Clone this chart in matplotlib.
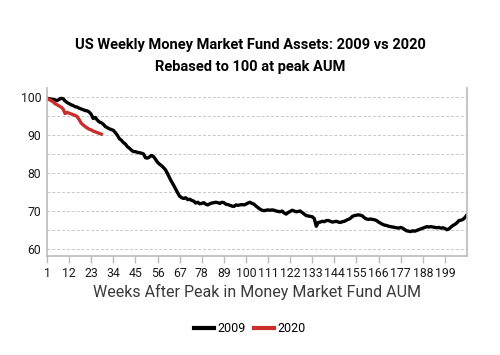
import matplotlib.pyplot as plt
from matplotlib.lines import Line2D

# Rebased weekly money market fund assets (peak = 100)
mmf_2009 = [
    99.6, 99.5, 99.4, 99.3, 99.2, 99.0, 99.3, 99.6, 99.5, 98.9,
    98.5, 98.2, 97.9, 97.7, 97.4, 97.3, 97.0, 96.8, 96.6, 96.4,
    96.3, 96.0, 95.4, 94.3, 94.6, 93.9, 93.4, 93.2, 92.8, 92.2,
    91.9, 91.6, 91.4, 91.2, 90.6, 89.9, 89.0, 88.6, 88.0, 87.6,
    86.9, 86.5, 86.0, 85.6, 85.6, 85.4, 85.3, 85.2, 85.0, 84.0,
    83.9, 84.2, 84.6, 84.3, 83.6, 82.8, 82.3, 81.9, 81.4, 80.8,
    79.8, 78.7, 77.7, 76.8, 75.8, 74.8, 73.9, 73.5, 73.3, 73.5,
    73.0, 73.1, 72.8, 72.6, 72.1, 72.3, 71.9, 72.0, 72.2, 71.8,
    71.6, 71.9, 72.1, 72.2, 72.3, 72.2, 72.0, 72.3, 72.2, 71.8,
    71.7, 71.5, 71.3, 71.2, 71.6, 71.5, 71.6, 71.7, 71.6, 71.8,
    72.1, 72.3, 72.0, 71.8, 71.3, 70.9, 70.5, 70.2, 70.1, 70.2,
    70.3, 70.2, 70.3, 70.2, 70.0, 69.9, 69.8, 70.0, 69.5, 69.2,
    69.6, 69.9, 70.2, 70.0, 69.8, 69.9, 70.0, 69.6, 69.2, 68.8,
    68.7, 68.6, 68.5, 68.0, 66.0, 67.0, 67.1, 67.3, 67.2, 67.5,
    67.5, 67.3, 67.1, 67.2, 67.3, 67.1, 67.0, 67.2, 67.3, 67.6,
    67.8, 68.1, 68.6, 68.8, 68.9, 69.0, 68.9, 68.7, 68.2, 67.9,
    67.8, 67.9, 67.8, 67.7, 67.5, 67.1, 66.8, 66.5, 66.3, 66.2,
    66.0, 65.9, 65.8, 65.7, 65.6, 65.5, 65.7, 65.5, 65.1, 64.8,
    64.7, 64.6, 64.8, 64.7, 64.9, 65.1, 65.3, 65.5, 65.7, 65.9,
    65.8, 65.9, 65.8, 65.7, 65.6, 65.7, 65.5, 65.6, 65.4, 65.1,
    65.3, 65.8, 66.2, 66.5, 66.9, 67.5, 67.6, 67.8, 68.3, 69.0,
]
mmf_2020 = [
    99.6, 99.3, 99.0, 98.7, 98.2, 97.9, 97.6, 97.3, 96.8, 95.6,
    95.9, 95.7, 95.5, 95.3, 95.1, 94.8, 94.0, 93.1, 92.6, 92.2,
    91.8, 91.5, 91.3, 91.0, 90.8, 90.6, 90.4, 90.2,
]
week_ticks = list(range(1, 200, 11))
y_ticks = [60, 70, 80, 90, 100]

plt.rcParams['font.family'] = ['Roboto', 'DejaVu Sans']

fig = plt.figure(figsize=(5, 3.55), dpi=100)
ax = fig.add_axes([0.094, 0.279, 0.84, 0.473])

weeks09 = list(range(1, len(mmf_2009) + 1))
weeks20 = list(range(1, len(mmf_2020) + 1))
ax.plot(weeks09, mmf_2009, color='black', lw=2.4, solid_joinstyle='round')
ax.plot(weeks20, mmf_2020, color='#c9302c', lw=2.4, solid_joinstyle='round')

ax.set_xlim(1, 210)
ax.set_ylim(58.2, 102.3)
ax.set_xticks(week_ticks)
ax.set_xticklabels([str(w) for w in week_ticks], fontsize=8.8, color='#1a1a1a')
ax.set_yticks(y_ticks)
ax.set_yticklabels([str(v) for v in y_ticks], fontsize=8.8, color='#1a1a1a')

for v in range(60, 101, 5):
    ax.axhline(v, color='#c8c8c8', lw=0.7, ls=(0, (3, 2)), zorder=0)

for side in ['left', 'bottom', 'right']:
    ax.spines[side].set_color('#bbbbbb')
    ax.spines[side].set_linewidth(1.2)
ax.spines['top'].set_visible(False)
ax.tick_params(axis='x', length=5, width=1, color='#bbbbbb', pad=3)
ax.tick_params(axis='y', length=0, pad=4)

ax.set_xlabel('Weeks After Peak in Money Market Fund AUM', fontsize=11.5,
              color='#3a3a3a', labelpad=3)

fig.text(0.5, 0.872, 'US Weekly Money Market Fund Assets: 2009 vs 2020',
         ha='center', va='center', fontsize=10.5, fontweight='bold')
fig.text(0.5, 0.81, 'Rebased to 100 at peak AUM',
         ha='center', va='center', fontsize=10.5, fontweight='bold')

handles = [Line2D([], [], color='black', lw=3),
           Line2D([], [], color='#c9302c', lw=3)]
fig.legend(handles, ['2009', '2020'], loc='center', bbox_to_anchor=(0.5, 0.075),
           ncol=2, frameon=False, fontsize=9, handlelength=1.6,
           handletextpad=0.3, columnspacing=0.6)

fig.savefig('out.png', dpi=100)
